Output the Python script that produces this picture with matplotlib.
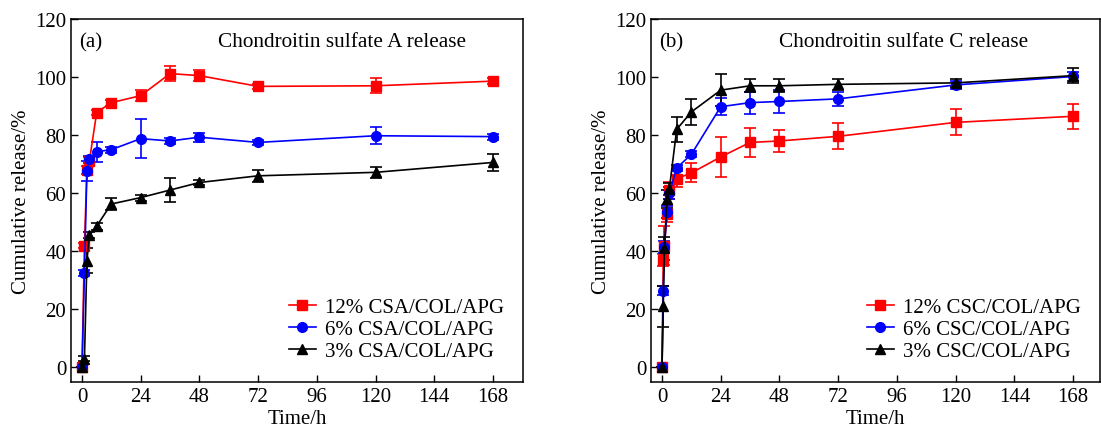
import matplotlib
matplotlib.use("Agg")
from matplotlib import pyplot as plt

plt.rcParams["font.family"] = ["Liberation Serif", "DejaVu Serif"]

# (a) chondroitin sulfate A
time_a = [0, 1, 2, 3, 6, 12, 24, 36, 48, 72, 120, 168]
csa_12 = [0, 42, 68, 71, 87.8, 91.2, 93.6, 101.2, 100.5, 96.8, 97, 98.6]
csa_12_err = [0, 1, 1.5, 1.5, 1, 1, 1.8, 2.6, 2, 0.8, 2.6, 1]
csa_6 = [0, 32.5, 67.7, 71.7, 74.3, 75, 78.8, 78, 79.3, 77.5, 79.8, 79.5]
csa_6_err = [0, 1, 3.5, 1.2, 3.5, 1, 6.8, 1, 1.5, 1, 3, 1]
csa_3 = [0, 3, 36.7, 45.5, 48.7, 56.3, 58.5, 61.1, 63.7, 66, 67.2, 70.6]
csa_3_err = [0, 0.8, 4.3, 1, 1.2, 2.1, 1, 4, 1, 2, 2, 3]

# (b) chondroitin sulfate C
time_b = [0, 0.5, 1, 2, 3, 6, 12, 24, 36, 48, 72, 120, 168]
csc_12 = [0, 37, 42, 53, 61, 65, 67, 72.5, 77.5, 78, 79.6, 84.4, 86.5]
csc_12_err = [0, 2, 6.6, 3, 3, 3, 3.3, 6.9, 4.9, 3.9, 4.5, 4.5, 4.3]
csc_6 = [0, 26.5, 41.5, 53.5, 60, 68.7, 73.4, 89.8, 91.2, 91.6, 92.5, 97.3, 100.2]
csc_6_err = [0, 1.5, 2, 2, 2, 1, 1, 2.9, 3.8, 3.8, 2.5, 1.5, 1.5]
csc_3 = [0, 21, 41, 58, 61.5, 82, 88, 95.5, 97, 97, 97.5, 98, 100.5]
csc_3_err = [0, 7, 4, 3, 2, 4.2, 4.5, 5.5, 2.3, 2.3, 2, 1.5, 2.5]

x_ticks = [0, 24, 48, 72, 96, 120, 144, 168]
y_ticks = [0, 20, 40, 60, 80, 100, 120]

FS = 15

fig = plt.figure(figsize=(11.01, 4.35), dpi=100)
ax_a = fig.add_axes([71 / 1101, 52 / 435, 452 / 1101, 363 / 435])
ax_b = fig.add_axes([651 / 1101, 52 / 435, 449 / 1101, 363 / 435])


def draw_panel(ax, t, series, labels, tag, title, title_x, xmax):
    styles = [("red", "s", 6.5), ("blue", "o", 7), ("black", "^", 7.5)]
    handles = []
    for (y, err), label, (color, marker, ms) in zip(series, labels, styles):
        c = ax.errorbar(
            t, y, yerr=err, color=color, marker=marker, markersize=ms,
            linewidth=1.2, elinewidth=1.2, capsize=4, capthick=1.2, label=label,
        )
        # legend shows only line + marker, no error bar glyph
        handles.append(c.lines[0])
    ax.set_xlim(-4.5, xmax)
    ax.set_ylim(-5, 120)
    ax.set_xticks(x_ticks)
    ax.set_yticks(y_ticks)
    ax.tick_params(direction="in", length=5, width=1, labelsize=FS)
    ax.set_xlabel("Time/h", fontsize=FS, labelpad=2)
    ax.set_ylabel("Cumulative release/%", fontsize=FS, labelpad=3)
    ax.text(0.018, 0.937, tag, transform=ax.transAxes, fontsize=FS, va="center")
    ax.text(title_x, 0.937, title, transform=ax.transAxes, fontsize=15.3, va="center")
    ax.legend(
        handles=handles, labels=labels,
        loc="lower right", bbox_to_anchor=(1.0, 0.005), frameon=False, fontsize=FS,
        labelspacing=0.13, handlelength=1.3, handletextpad=0.45,
    )
    for s in ax.spines.values():
        s.set_linewidth(1.1)


draw_panel(
    ax_a, time_a,
    [(csa_12, csa_12_err), (csa_6, csa_6_err), (csa_3, csa_3_err)],
    ["12% CSA/COL/APG", "6% CSA/COL/APG", "3% CSA/COL/APG"],
    "(a)", "Chondroitin sulfate A release", 0.325, 180.3,
)
draw_panel(
    ax_b, time_b,
    [(csc_12, csc_12_err), (csc_6, csc_6_err), (csc_3, csc_3_err)],
    ["12% CSC/COL/APG", "6% CSC/COL/APG", "3% CSC/COL/APG"],
    "(b)", "Chondroitin sulfate C release", 0.285, 179,
)

fig.savefig("out.png", dpi=100)
